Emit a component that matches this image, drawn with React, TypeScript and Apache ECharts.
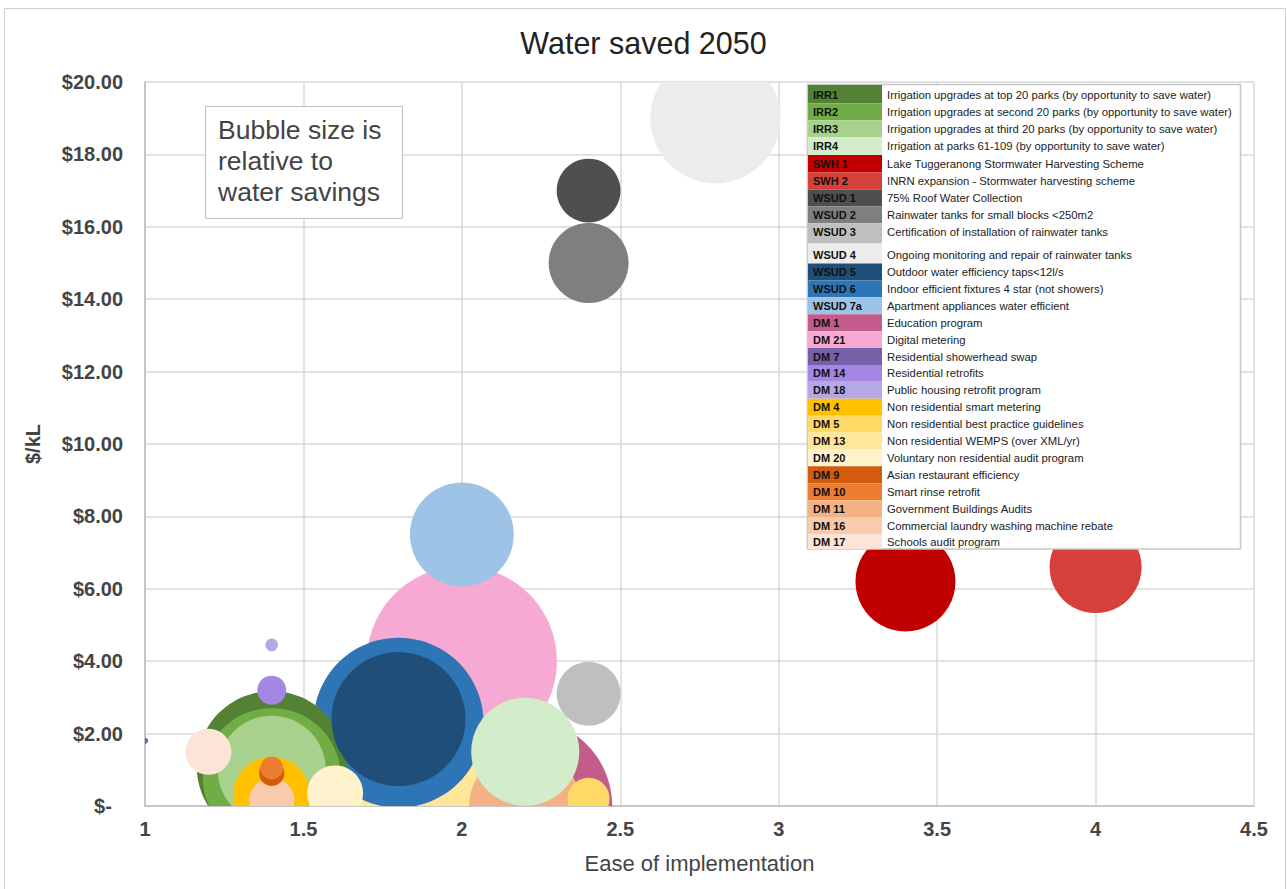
import React, { useEffect, useRef } from "react";
import * as echarts from "echarts";

const FONT = '"Liberation Sans", Arial, sans-serif';

const codes = [
  "IRR1", "IRR2", "IRR3", "IRR4", "SWH 1", "SWH 2", "WSUD 1", "WSUD 2", "WSUD 3",
  "WSUD 4", "WSUD 5", "WSUD 6", "WSUD 7a", "DM 1", "DM 21", "DM 7", "DM 14", "DM 18",
  "DM 4", "DM 5", "DM 13", "DM 20", "DM 9", "DM 10", "DM 11", "DM 16", "DM 17",
];
const descriptions = [
  "Irrigation upgrades at top 20 parks (by opportunity to save water)",
  "Irrigation upgrades at second 20 parks (by opportunity to save water)",
  "Irrigation upgrades at third 20 parks (by opportunity to save water)",
  "Irrigation at parks 61-109 (by opportunity to save water)",
  "Lake Tuggeranong Stormwater Harvesting Scheme",
  "INRN expansion - Stormwater harvesting scheme",
  "75% Roof Water Collection",
  "Rainwater tanks for small blocks <250m2",
  "Certification of installation of rainwater tanks",
  "Ongoing monitoring and repair of rainwater tanks",
  "Outdoor water efficiency taps<12l/s",
  "Indoor efficient fixtures 4 star (not showers)",
  "Apartment appliances water efficient",
  "Education program",
  "Digital metering",
  "Residential showerhead swap",
  "Residential retrofits",
  "Public housing retrofit program",
  "Non residential smart metering",
  "Non residential best practice guidelines",
  "Non residential WEMPS (over XML/yr)",
  "Voluntary non residential audit program",
  "Asian restaurant efficiency",
  "Smart rinse retrofit",
  "Government Buildings Audits",
  "Commercial laundry washing machine rebate",
  "Schools audit program",
];
// Ease of implementation (x)
const ease = [
  1.4, 1.4, 1.4, 2.2, 3.4, 4.0, 2.4, 2.4, 2.4,
  2.8, 1.8, 1.8, 2.0, 2.2, 2.0, 1.0, 1.4, 1.4,
  1.4, 2.4, 1.8, 1.6, 1.4, 1.4, 2.2, 1.4, 1.2,
];
// $/kL (y)
const costPerKL = [
  1.1, 0.8, 1.0, 1.5, 6.2, 6.6, 17.0, 15.0, 3.1,
  19.0, 2.4, 2.3, 7.5, 0.0, 4.0, 1.8, 3.2, 4.45,
  0.3, 0.2, 0.2, 0.35, 0.9, 1.05, 0.0, 0.15, 1.5,
];
// Water saved (bubble size)
const waterSaved = [
  563, 476, 292, 292, 250, 212, 102, 160, 102,
  423, 449, 723, 270, 757, 903, 1, 21, 4,
  148, 44, 740, 78, 16, 13, 314, 51, 53,
];
const colors = [
  "#548235", "#70ad47", "#a9d18e", "#d3ecc9", "#c00000", "#d5403a", "#4f4f4f", "#7f7f7f", "#bfbfbf",
  "#ececec", "#1f4e79", "#2e75b6", "#9dc3e6", "#c45c8b", "#f5a9d3", "#7760a8", "#a487e2", "#b6a8e4",
  "#ffc000", "#ffd966", "#ffe699", "#fff2cc", "#d35c0c", "#ed7d31", "#f4b183", "#f8cbad", "#fce4d6",
];
const xTicks = { min: 1, max: 4.5, interval: 0.5 };
const yTicks = { min: 0, max: 20, interval: 2 };
const noteLines = ["Bubble size is", "relative to", "water savings"];

export default function App() {
  const ref = useRef<HTMLDivElement>(null);
  useEffect(() => {
    document.body.style.margin = "0";
    if (!ref.current) return;
    const chart = echarts.init(ref.current, undefined, { renderer: "svg" });

    // larger bubbles first so smaller ones sit on top
    const order = codes.map((_, i) => i).sort((a, b) => waterSaved[b] - waterSaved[a]);
    const data = order.map((i) => [ease[i], costPerKL[i], waterSaved[i], i]);

    const Z = 50;
    // legend layout
    const rowCenter = (i: number) => 95 + i * 16.9 + (i >= 4 ? 1.5 : 0) + (i >= 9 ? 6.5 : 0);
    const legendTop = 85;
    const legendBottom = 549;
    const legendEls: any[] = [
      {
        type: "rect",
        z: Z,
        shape: { x: 807.5, y: 84.5, width: 433, height: 464.5 },
        style: { fill: "#fff", stroke: "#c8c8c8", lineWidth: 1.5 },
      },
    ];
    codes.forEach((c, i) => {
      const cy = rowCenter(i);
      const top = i === 0 ? legendTop : (rowCenter(i - 1) + cy) / 2;
      const bottom = i === codes.length - 1 ? legendBottom : (rowCenter(i + 1) + cy) / 2;
      legendEls.push({
        type: "rect",
        z: Z + 1,
        shape: { x: 808, y: top, width: 74, height: bottom - top },
        style: { fill: colors[i] },
      });
      legendEls.push({
        type: "text",
        z: Z + 2,
        x: 813,
        y: cy,
        style: {
          text: c,
          fontFamily: FONT,
          fontSize: 11,
          fontWeight: "bold",
          fill: "#111",
          verticalAlign: "middle",
        },
      });
      legendEls.push({
        type: "text",
        z: Z + 2,
        x: 887,
        y: cy,
        style: {
          text: descriptions[i],
          fontFamily: FONT,
          fontSize: 11.3,
          fill: "#222",
          verticalAlign: "middle",
        },
      });
    });

    chart.setOption({
      animation: false,
      backgroundColor: "#fff",
      title: {
        text: "Water saved 2050",
        left: "center",
        top: 22,
        textStyle: { fontFamily: FONT, fontSize: 30.5, fontWeight: "normal", color: "#222" },
      },
      grid: { left: 145, right: 33, top: 82, bottom: 83 },
      xAxis: {
        type: "value",
        min: xTicks.min,
        max: xTicks.max,
        interval: xTicks.interval,
        name: "Ease of implementation",
        nameLocation: "middle",
        nameGap: 46,
        nameTextStyle: { fontFamily: FONT, fontSize: 22, color: "#444" },
        axisLine: { show: true, lineStyle: { color: "#bdbdbd", width: 1.5 } },
        axisTick: { show: false },
        splitLine: { show: true, lineStyle: { color: "#d9d9d9", width: 1.5 } },
        axisLabel: {
          fontFamily: FONT,
          fontSize: 20,
          fontWeight: "bold",
          color: "#444",
          margin: 13,
          formatter: (v: number) => String(v),
        },
      },
      yAxis: {
        type: "value",
        min: yTicks.min,
        max: yTicks.max,
        interval: yTicks.interval,
        name: "$/kL",
        nameLocation: "middle",
        nameGap: 102,
        nameTextStyle: { fontFamily: FONT, fontSize: 20, fontWeight: "bold", color: "#444" },
        axisLine: { show: true, lineStyle: { color: "#bdbdbd", width: 1.5 } },
        axisTick: { show: false },
        splitLine: { show: true, lineStyle: { color: "#d9d9d9", width: 1.5 } },
        axisLabel: {
          fontFamily: FONT,
          fontSize: 20,
          fontWeight: "bold",
          color: "#444",
          margin: 22,
          formatter: (v: number) => (v === 0 ? "$-\u00a0\u00a0" : "$" + v.toFixed(2)),
        },
      },
      series: [
        {
          type: "custom",
          clip: true,
          encode: { x: 0, y: 1 },
          data,
          renderItem: (params: any, api: any) => {
            const p = api.coord([api.value(0), api.value(1)]);
            const r = Math.sqrt(api.value(2) * 10);
            const idx = api.value(3);
            return {
              type: "circle",
              shape: { cx: p[0], cy: p[1], r },
              style: { fill: colors[idx] },
            };
          },
        },
      ],
      graphic: [
        {
          type: "rect",
          silent: true,
          z: Z,
          shape: { x: 4.5, y: 8.5, width: 1281, height: 900 },
          style: { fill: "none", stroke: "#cfcfcf", lineWidth: 1 },
        },
        {
          type: "rect",
          z: Z,
          shape: { x: 205.5, y: 106.5, width: 197, height: 112 },
          style: { fill: "#fff", stroke: "#bfbfbf", lineWidth: 1 },
        },
        {
          type: "text",
          z: Z + 1,
          x: 218,
          y: 114,
          style: {
            text: noteLines.join("\n"),
            fontFamily: FONT,
            fontSize: 26.5,
            lineHeight: 31,
            fill: "#444",
          },
        },
        ...legendEls,
      ],
    });
    return () => chart.dispose();
  }, []);
  return <div ref={ref} style={{ width: 1287, height: 889 }} />;
}
